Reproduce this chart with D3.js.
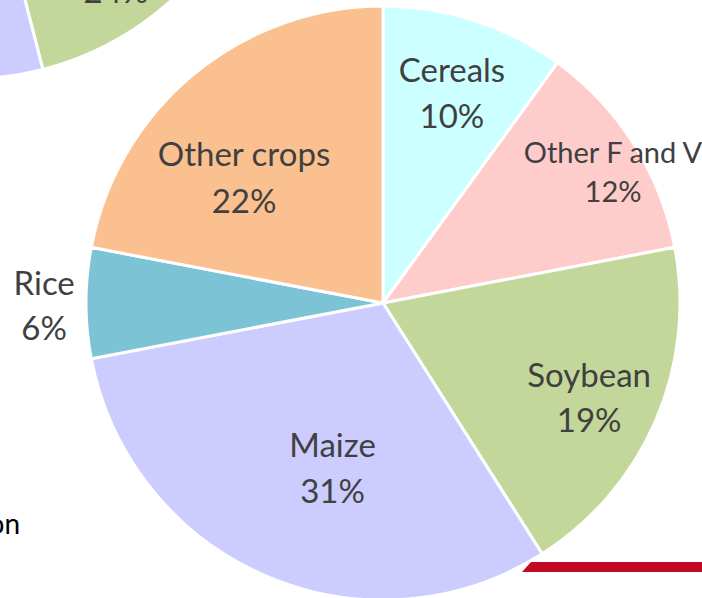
<!DOCTYPE html>
<html>
<head>
<meta charset="utf-8">
<script src="https://cdn.jsdelivr.net/npm/d3@7"></script>
<style>
  html, body { margin: 0; padding: 0; background: #fff; overflow: hidden; }
  svg { display: block; }
  .lbl { font-family: Lato, "Open Sans", sans-serif; fill: #404040; }
</style>
</head>
<body>
<div id="charts"></div>
<script>
const categories = ["Cereals", "Other F and V", "Soybean", "Maize", "Rice", "Other crops"];
const shares = [10, 12, 19, 31, 6, 22];        // main pie, %
const insetShares = [10, 12, 24, 30, 6, 18];   // pie cut off at top left, %
const colors = ["#ccffff", "#ffcccc", "#c4d79b", "#ccccff", "#7bc3d5", "#fac090"];

// label placement: radius fraction, angle shift (deg), font size, line gap
const labelPlace = {
    "Cereals":       [0.706, 1.2, 33, 46],
    "Other F and V": [0.874, 4.8, 29, 39],
    "Soybean":       [0.781, 3.9, 33, 45],
    "Maize":         [0.62, -7.5, 33, 46],
    "Rice":          [1.142, -2.45, 33, 45],
    "Other crops":   [0.604, -11.2, 33, 47]
};
const insetPlace = { "Soybean": [0.833, 21.7, 33, 46] };

window.onload = init;

function init()
{
    const width = 702;
    const height = 598;
    const svg = d3.select('#charts').append('svg').attr('width', width).attr('height', height);

    const pie = d3.pie().sort(null).value(d => d);

    function drawPie(values, cx, cy, r, place)
    {
        const arcs = pie(values);
        const arc = d3.arc().innerRadius(0).outerRadius(r);
        const g = svg.append('g').attr('transform', `translate(${cx},${cy})`);

        g.selectAll('path').data(arcs).enter().append('path')
            .attr('d', arc)
            .attr('fill', (d, i) => colors[i])
            .attr('stroke', '#fff')
            .attr('stroke-width', 3)
            .attr('stroke-linejoin', 'round');

        arcs.forEach((d, i) => {
            const name = categories[i];
            const p = place[name] || [0.72, 0, 33, 46];
            const a = (d.startAngle + d.endAngle) / 2 + p[1] * Math.PI / 180;
            const x = r * p[0] * Math.sin(a);
            const y = -r * p[0] * Math.cos(a);
            const t = g.append('text').attr('class', 'lbl')
                .attr('text-anchor', 'middle')
                .style('font-size', p[2] + 'px');
            t.append('tspan').attr('x', x).attr('y', y - p[3] / 2).text(name);
            t.append('tspan').attr('x', x).attr('y', y + p[3] / 2).text(values[i] + '%');
        });
    }

    drawPie(insetShares, -33, -226, 305, insetPlace);
    drawPie(shares, 383, 303, 297, labelPlace);

    // slide leftovers
    svg.append('text').attr('x', 20).attr('y', 534).attr('text-anchor', 'end')
        .style('font-family', 'Lato, sans-serif').style('font-size', '28px').style('fill', '#000')
        .text('on');

    svg.append('path')
        .attr('d', 'M531,562 L702,562 L702,572 L522,572 Z')
        .attr('fill', '#c40a22')
        .style('filter', 'blur(0.6px)');
}
</script>
</body>
</html>
